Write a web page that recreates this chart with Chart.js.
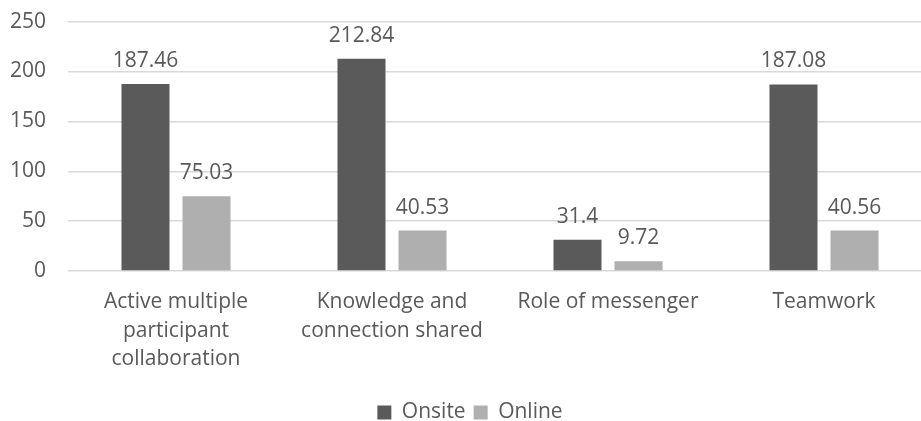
<!DOCTYPE html>
<html>
<head>
<meta charset="utf-8">
<script src="https://cdn.jsdelivr.net/npm/chart.js@4.4.1/dist/chart.umd.min.js"></script>
<style>
    html, body { margin: 0; padding: 0; background: #fff; overflow: hidden; }
    #wrap { position: relative; top: -13px; width: 935px; height: 446px; }
</style>
</head>
<body>
<div id="wrap"><canvas id="barChart"></canvas></div>
<script>
const categories = [
    ['Active multiple', 'participant', 'collaboration'],
    ['Knowledge and', 'connection shared'],
    ['Role of messenger'],
    ['Teamwork']
];
const onsite = [187.46, 212.84, 31.4, 187.08];
const online = [75.03, 40.53, 9.72, 40.56];
const yTicks = [0, 50, 100, 150, 200, 250];

const textColor = '#595959';
const fontFamily = '"Open Sans", sans-serif';

// value labels above each bar
const valueLabels = {
    id: 'valueLabels',
    afterDatasetsDraw(chart) {
        const ctx = chart.ctx;
        ctx.save();
        ctx.fillStyle = textColor;
        ctx.font = '21px ' + fontFamily;
        ctx.textAlign = 'center';
        ctx.textBaseline = 'middle';
        chart.data.datasets.forEach((ds, i) => {
            chart.getDatasetMeta(i).data.forEach((bar, j) => {
                ctx.fillText(String(ds.data[j]), bar.x, bar.y - 23);
            });
        });
        ctx.restore();
    }
};

new Chart(document.getElementById('barChart').getContext('2d'), {
    type: 'bar',
    data: {
        labels: categories,
        datasets: [{
            label: 'Onsite',
            data: onsite,
            backgroundColor: '#5a5a5a'
        }, {
            label: 'Online',
            data: online,
            backgroundColor: '#afafaf'
        }]
    },
    options: {
        responsive: true,
        maintainAspectRatio: false,
        animation: false,
        categoryPercentage: 0.565,
        barPercentage: 0.787,
        layout: {
            padding: { left: 8, right: 3, top: -9, bottom: 0 }
        },
        scales: {
            x: {
                grid: { display: false },
                border: { display: false },
                afterFit(axis) { axis.height += 12; },
                ticks: {
                    color: textColor,
                    font: { family: fontFamily, size: 21, lineHeight: 1.38 },
                    maxRotation: 0,
                    padding: 8
                }
            },
            y: {
                min: 0,
                max: 250,
                afterBuildTicks(axis) {
                    axis.ticks = yTicks.map(v => ({ value: v }));
                },
                afterFit(axis) { axis.width = 60; },
                grid: { color: '#d9d9d9', lineWidth: 1.5, drawTicks: false },
                border: { display: false },
                ticks: {
                    color: textColor,
                    font: { family: fontFamily, size: 21 },
                    padding: 22
                }
            }
        },
        plugins: {
            legend: {
                position: 'bottom',
                labels: {
                    color: textColor,
                    font: { family: fontFamily, size: 21 },
                    boxWidth: 14,
                    boxHeight: 14,
                    padding: 8
                }
            },
            tooltip: { enabled: false }
        }
    },
    plugins: [valueLabels]
});
</script>
</body>
</html>
